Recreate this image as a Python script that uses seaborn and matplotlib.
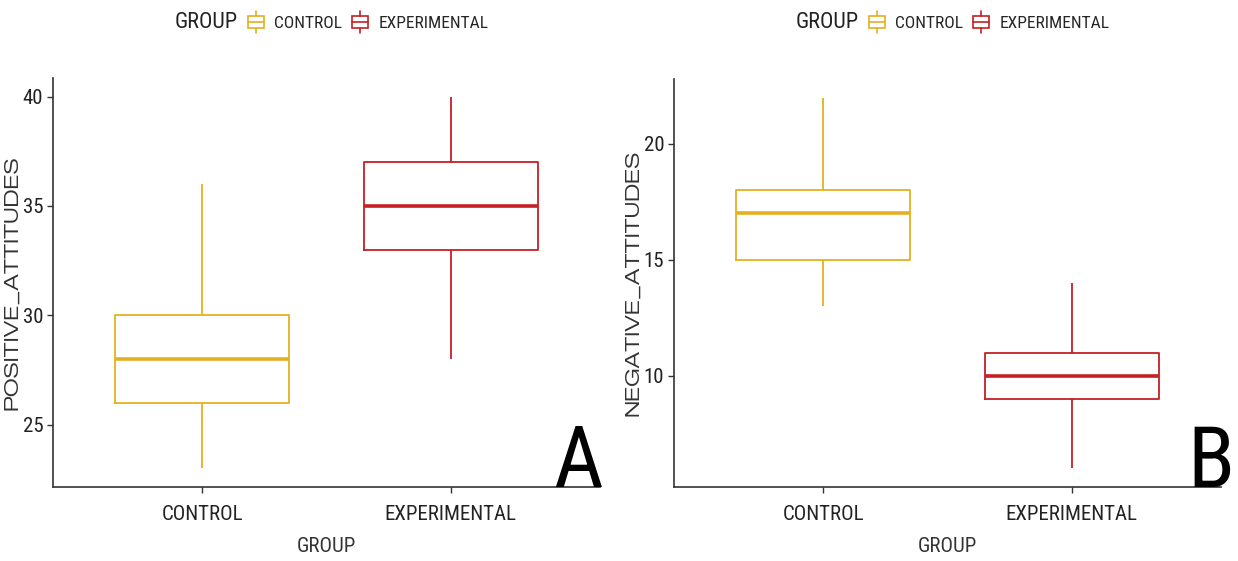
import numpy as np
import pandas as pd
import seaborn as sns
import matplotlib.pyplot as plt
from matplotlib.legend_handler import HandlerBase
from matplotlib.patches import Rectangle, Patch
from matplotlib.lines import Line2D

# five-number summaries: min, q1, median, q3, max
groups = ["CONTROL", "EXPERIMENTAL"]
pos_control = [23, 26, 28, 30, 36]
pos_experimental = [28, 33, 35, 37, 40]
neg_control = [13, 15, 17, 18, 22]
neg_experimental = [6, 9, 10, 11, 14]
colors = {"CONTROL": "#E5B020", "EXPERIMENTAL": "#C42025"}

sns.set_style("ticks")
plt.rcParams["font.family"] = ["Roboto Condensed", "DejaVu Sans"]
wide = ["Zalando Sans Expanded", "DejaVu Sans"]


class BoxKey(HandlerBase):
    # little vertical boxplot glyph like ggplot's legend key
    def create_artists(self, legend, orig, xd, yd, w, h, fontsize, trans):
        c = orig.get_edgecolor()
        x0, y0 = -xd, -yd
        box = Rectangle((x0, y0 + h * 0.2), w, h * 0.6, fill=False,
                        edgecolor=c, lw=1.2, transform=trans)
        med = Line2D([x0, x0 + w], [y0 + h * 0.5] * 2, color=c, lw=1.2, transform=trans)
        top = Line2D([x0 + w / 2] * 2, [y0 + h * 0.8, y0 + h * 1.05], color=c, lw=1.2, transform=trans)
        bot = Line2D([x0 + w / 2] * 2, [y0 - h * 0.05, y0 + h * 0.2], color=c, lw=1.2, transform=trans)
        return [box, med, top, bot]


fig = plt.figure(figsize=(12.38, 5.61), dpi=100)
W, H = 1238, 561
ax1 = fig.add_axes([53 / W, 74 / H, 547 / W, 409 / H])
ax2 = fig.add_axes([674 / W, 74 / H, 547 / W, 408 / H])

panels = [
    (ax1, "POSITIVE_ATTITUDES", pos_control, pos_experimental, (22.15, 40.85), [25, 30, 35, 40]),
    (ax2, "NEGATIVE_ATTITUDES", neg_control, neg_experimental, (5.2, 22.8), [10, 15, 20]),
]

for ax, col, ctrl, exp, ylim, yt in panels:
    df = pd.DataFrame({"GROUP": np.repeat(groups, 5), col: ctrl + exp})
    sns.boxplot(data=df, x="GROUP", y=col, hue="GROUP", palette=colors, fill=False,
                width=0.7, whis=(0, 100), showcaps=False, linewidth=1.3,
                medianprops=dict(linewidth=2.6), legend=False, ax=ax)
    ax.set_xlim(-0.6, 1.6)
    ax.set_ylim(*ylim)
    ax.set_yticks(yt)
    sns.despine(ax=ax)
    for s in ["left", "bottom"]:
        ax.spines[s].set_color("#333333")
        ax.spines[s].set_linewidth(1.2)
    ax.tick_params(axis="both", colors="#333333", labelcolor="#222222", length=4, width=1)
    ax.tick_params(axis="y", labelsize=15, pad=3)
    ax.tick_params(axis="x", labelsize=15, pad=9)
    ax.set_xlabel("GROUP", fontsize=15, color="#333333", labelpad=9)
    ax.set_ylabel(col, fontsize=14, color="#333333", family=wide)
    ax.yaxis.set_label_coords(-0.058, 0.5)

# big panel letters
fig.text(603 / W, 1 - 487 / H, "A", fontsize=62, ha="right", va="baseline", color="black")
fig.text(1234 / W, 1 - 487 / H, "B", fontsize=62, ha="right", va="baseline", color="black")

# legends on top
handles = [Patch(edgecolor=colors[g], facecolor="none", label=g) for g in groups]
for off in [0, 621]:
    fig.text((238 + off) / W, 1 - 22 / H, "GROUP", fontsize=16, ha="right", va="center",
             color="#222222")
    fig.legend(handles=handles, loc="center left", bbox_to_anchor=((248 + off) / W, 1 - 22 / H),
               ncol=2, frameon=False, fontsize=12.5, borderpad=0, borderaxespad=0,
               handlelength=0.9, handleheight=1.4, handletextpad=0.6, columnspacing=0.6,
               handler_map={Patch: BoxKey()})

fig.savefig("out.png", dpi=100)
